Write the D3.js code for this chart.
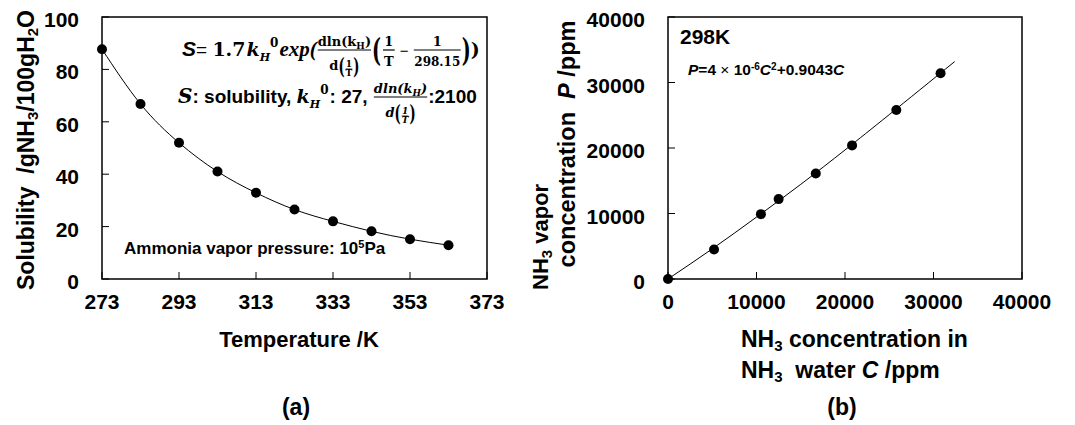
<!DOCTYPE html>
<html>
<head>
<meta charset="utf-8">
<script src="https://cdn.jsdelivr.net/npm/d3@7"></script>
<style>
  body { margin: 0; background: #fff; }
  svg { display: block; }
  text { fill: #000; white-space: pre; }
</style>
</head>
<body>
<svg id="chart" width="1075" height="425"></svg>
<script>
// panel (a): solubility of ammonia vs temperature
var tempK = [273, 283, 293, 303, 313, 323, 333, 343, 353, 363];
var solubility = [87.7, 66.8, 52.0, 41.0, 32.9, 26.5, 22.0, 18.2, 15.2, 12.9];
var tempTicks = [273, 293, 313, 333, 353, 373];
var solTicks = [0, 20, 40, 60, 80, 100];

// panel (b): vapor concentration vs concentration in water, 298K
var concC = [0, 5200, 10500, 12500, 16700, 20800, 25800, 30800];
var vaporP = [0, 4500, 9900, 12200, 16100, 20400, 25800, 31400];
// fitted line
var fitC = [0, 5000, 10000, 15000, 20000, 25000, 32400];
var fitP = [0, 4600, 9450, 14450, 19700, 25100, 33200];
var concTicks = [0, 10000, 20000, 30000, 40000];

var SANS = "Liberation Sans, Arial, sans-serif";
var SERIF = "DejaVu Serif, Liberation Serif, serif";
var TIMES = "Liberation Serif, serif";
var tickSize = 21, titleSize = 23;

var svg = d3.select("#chart");

// draws one framed panel with inward ticks
function panel(x, y, xTicks, yTicks) {
  var g = svg.append("g");
  var x0 = x.range()[0], x1 = x.range()[1], y0 = y.range()[0], y1 = y.range()[1];

  g.append("rect")
    .attr("x", x0).attr("y", y1)
    .attr("width", x1 - x0).attr("height", y0 - y1)
    .attr("fill", "none").attr("stroke", "#000").attr("stroke-width", 1.5);

  xTicks.forEach(function (v) {
    g.append("line")
      .attr("x1", x(v)).attr("x2", x(v))
      .attr("y1", y0).attr("y2", y0 - 7)
      .attr("stroke", "#000").attr("stroke-width", 1);
    g.append("text")
      .attr("x", x(v)).attr("y", y0 + 30)
      .attr("text-anchor", "middle")
      .attr("font-family", SANS).attr("font-weight", "bold").attr("font-size", tickSize)
      .text(v);
  });
  yTicks.forEach(function (v) {
    g.append("line")
      .attr("x1", x0).attr("x2", x0 + 7)
      .attr("y1", y(v)).attr("y2", y(v))
      .attr("stroke", "#000").attr("stroke-width", 1);
    g.append("text")
      .attr("x", x0 - 23).attr("y", y(v) + 10)
      .attr("text-anchor", "end")
      .attr("font-family", SANS).attr("font-weight", "bold").attr("font-size", tickSize)
      .text(v);
  });
  return g;
}

// inline layout of text pieces and fractions, returns total width
function layout(parent, items) {
  var cx = 0;
  items.forEach(function (it) {
    var g = parent.append("g").attr("transform", "translate(" + cx + ",0)");
    var w;
    if (it.frac) {
      var ng = g.append("g"), dg = g.append("g");
      var wn = layout(ng, it.frac[0]), wd = layout(dg, it.frac[1]);
      w = Math.max(wn, wd) + (it.pad || 4);
      ng.attr("transform", "translate(" + (w - wn) / 2 + "," + it.up + ")");
      dg.attr("transform", "translate(" + (w - wd) / 2 + "," + it.down + ")");
      g.append("line")
        .attr("x1", 1).attr("x2", w - 1)
        .attr("y1", it.bar).attr("y2", it.bar)
        .attr("stroke", "#000").attr("stroke-width", it.sw || 1.2);
    } else {
      var t = g.append("text")
        .attr("font-family", it.ff || SERIF)
        .attr("font-size", it.fs)
        .attr("font-weight", it.fw || "bold")
        .attr("font-style", it.it ? "italic" : "normal")
        .text(it.t);
      if (it.sy) t.attr("transform", "translate(0," + (it.dy || 0) + ") scale(1," + it.sy + ")");
      else t.attr("y", it.dy || 0);
      w = t.node().getComputedTextLength() + (it.gap || 0);
    }
    cx += w;
  });
  return cx;
}

// ---------- panel (a) ----------
var xa = d3.scaleLinear().domain([273, 373]).range([102, 487]);
var ya = d3.scaleLinear().domain([0, 100]).range([279, 17]);
var ga = panel(xa, ya, tempTicks, solTicks);

var solPts = tempK.map(function (t, i) { return [t, solubility[i]]; });
ga.append("path")
  .datum(solPts)
  .attr("fill", "none").attr("stroke", "#000").attr("stroke-width", 1)
  .attr("d", d3.line().x(function (d) { return xa(d[0]); }).y(function (d) { return ya(d[1]); }).curve(d3.curveNatural));
ga.selectAll(".dotA")
  .data(solPts)
  .enter().append("circle")
  .attr("class", "dotA")
  .attr("cx", function (d) { return xa(d[0]); })
  .attr("cy", function (d) { return ya(d[1]); })
  .attr("r", 5).attr("fill", "#000");

// y title (a)
var yta = ga.append("text")
  .attr("transform", "translate(34,150) rotate(-90)")
  .attr("text-anchor", "middle")
  .attr("font-family", SANS).attr("font-weight", "bold").attr("font-size", titleSize);
yta.append("tspan").text("Solubility  /gNH");
yta.append("tspan").attr("baseline-shift", "-25%").attr("font-size", 15).text("3");
yta.append("tspan").text("/100gH");
yta.append("tspan").attr("baseline-shift", "-25%").attr("font-size", 15).text("2");
yta.append("tspan").text("O");

ga.append("text")
  .attr("x", 299).attr("y", 347)
  .attr("text-anchor", "middle")
  .attr("font-family", SANS).attr("font-weight", "bold").attr("font-size", 22)
  .text("Temperature /K");

ga.append("text")
  .attr("x", 296).attr("y", 415)
  .attr("text-anchor", "middle")
  .attr("font-family", SANS).attr("font-weight", "bold").attr("font-size", titleSize)
  .text("(a)");

// ammonia note
var note = ga.append("text")
  .attr("x", 124).attr("y", 254)
  .attr("font-family", SANS).attr("font-weight", "bold").attr("font-size", 17);
note.append("tspan").text("Ammonia vapor pressure: 10");
note.append("tspan").attr("baseline-shift", "super").attr("font-size", 11).text("5");
note.append("tspan").text("Pa");

// formula line 1
var f1 = ga.append("g").attr("transform", "translate(182,56)");
var small = 13, tiny = 9;
layout(f1, [
  { t: "S", ff: SANS, fs: 21, it: true },
  { t: "= ", ff: SANS, fs: 19, fw: "normal" },
  { t: "1.7", fs: 19, gap: 1 },
  { t: "k", fs: 19, it: true },
  { t: "H", fs: 11, it: true, dy: 5 },
  { t: "0", fs: 12, dy: -9, gap: 1 },
  { t: "exp(", ff: TIMES, fs: 21, it: true },
  { frac: [
      [{ t: "dln(k", fs: small }, { t: "H", fs: 9, dy: 3 }, { t: ")", fs: small }],
      [{ t: "d", fs: small }, { t: "(", fs: small, sy: 1.7, dy: 4 },
       { frac: [[{ t: "1", fs: tiny }], [{ t: "T", fs: tiny }]], up: -3, down: 6, bar: -1, sw: 0.8, pad: 2 },
       { t: ")", fs: small, sy: 1.7, dy: 4 }]
    ], up: -10, down: 14, bar: -6, pad: 2 },
  { t: "(", fs: 19, sy: 1.7, dy: 5, gap: 1 },
  { frac: [[{ t: "1", fs: small }], [{ t: "T", fs: small }]], up: -10, down: 10, bar: -6, pad: 4 },
  { t: " − ", ff: SANS, fs: 15, fw: "normal" },
  { frac: [[{ t: "1", fs: small }], [{ t: "298.15", fs: 12 }]], up: -10, down: 10, bar: -6, pad: 3 },
  { t: ")", fs: 19, sy: 1.7, dy: 5 },
  { t: ")", fs: 19 }
]);

// formula line 2
var f2 = ga.append("g").attr("transform", "translate(178,103)");
layout(f2, [
  { t: "S", fs: 20, it: true },
  { t: ": solubility, ", ff: SANS, fs: 19 },
  { t: "k", fs: 19, it: true },
  { t: "H", fs: 11, it: true, dy: 5 },
  { t: "0", fs: 12, dy: -9, gap: 1 },
  { t: ": 27, ", ff: SANS, fs: 19 },
  { frac: [
      [{ t: "dln(k", fs: small, it: true }, { t: "H", fs: 9, it: true, dy: 3 }, { t: ")", fs: small, it: true }],
      [{ t: "d", fs: small, it: true }, { t: "(", fs: small, sy: 1.7, dy: 4 },
       { frac: [[{ t: "1", fs: tiny, it: true }], [{ t: "T", fs: tiny, it: true }]], up: -3, down: 6, bar: -1, sw: 0.8, pad: 2 },
       { t: ")", fs: small, sy: 1.7, dy: 4 }]
    ], up: -10, down: 14, bar: -6, pad: 2 },
  { t: ":2100", ff: SANS, fs: 19 }
]);

// ---------- panel (b) ----------
var xb = d3.scaleLinear().domain([0, 40000]).range([668, 1022]);
var yb = d3.scaleLinear().domain([0, 40000]).range([279, 17]);
var gb = panel(xb, yb, concTicks, concTicks);

var fitPts = fitC.map(function (c, i) { return [c, fitP[i]]; });
gb.append("path")
  .datum(fitPts)
  .attr("fill", "none").attr("stroke", "#000").attr("stroke-width", 1)
  .attr("d", d3.line().x(function (d) { return xb(d[0]); }).y(function (d) { return yb(d[1]); }).curve(d3.curveNatural));
gb.selectAll(".dotB")
  .data(concC.map(function (c, i) { return [c, vaporP[i]]; }))
  .enter().append("circle")
  .attr("class", "dotB")
  .attr("cx", function (d) { return xb(d[0]); })
  .attr("cy", function (d) { return yb(d[1]); })
  .attr("r", 5).attr("fill", "#000");

gb.append("text")
  .attr("x", 680).attr("y", 44)
  .attr("font-family", SANS).attr("font-weight", "bold").attr("font-size", 21)
  .text("298K");

var eq = gb.append("text")
  .attr("x", 688).attr("y", 75)
  .attr("font-family", SANS).attr("font-weight", "bold").attr("font-size", 15.5);
eq.append("tspan").attr("font-style", "italic").text("P");
eq.append("tspan").text("=4");
eq.append("tspan").attr("font-weight", "normal").text(" × ");
eq.append("tspan").text("10");
eq.append("tspan").attr("baseline-shift", "super").attr("font-size", 10).text("-6");
eq.append("tspan").attr("font-style", "italic").text("C");
eq.append("tspan").attr("baseline-shift", "super").attr("font-size", 10).text("2");
eq.append("tspan").text("+0.9043");
eq.append("tspan").attr("font-style", "italic").text("C");

// y title (b), two lines
var ytb1 = gb.append("text")
  .attr("transform", "translate(548,290) rotate(-90)")
  .attr("font-family", SANS).attr("font-weight", "bold").attr("font-size", 22);
ytb1.append("tspan").text("NH");
ytb1.append("tspan").attr("baseline-shift", "-25%").attr("font-size", 15).text("3");
ytb1.append("tspan").text(" vapor");

var ytb2 = gb.append("text")
  .attr("transform", "translate(575,144) rotate(-90)")
  .attr("text-anchor", "middle")
  .attr("font-family", SANS).attr("font-weight", "bold").attr("font-size", 23.5);
ytb2.append("tspan").text("concentration  ");
ytb2.append("tspan").attr("font-style", "italic").text("P");
ytb2.append("tspan").text(" /ppm");

// x title (b), two lines
var xtb1 = gb.append("text")
  .attr("x", 741).attr("y", 347)
  .attr("font-family", SANS).attr("font-weight", "bold").attr("font-size", titleSize);
xtb1.append("tspan").text("NH");
xtb1.append("tspan").attr("baseline-shift", "-25%").attr("font-size", 15).text("3");
xtb1.append("tspan").text(" concentration in");

var xtb2 = gb.append("text")
  .attr("x", 741).attr("y", 378)
  .attr("font-family", SANS).attr("font-weight", "bold").attr("font-size", titleSize);
xtb2.append("tspan").text("NH");
xtb2.append("tspan").attr("baseline-shift", "-25%").attr("font-size", 15).text("3");
xtb2.append("tspan").text("  water ");
xtb2.append("tspan").attr("font-style", "italic").text("C");
xtb2.append("tspan").text(" /ppm");

gb.append("text")
  .attr("x", 842).attr("y", 415)
  .attr("text-anchor", "middle")
  .attr("font-family", SANS).attr("font-weight", "bold").attr("font-size", titleSize)
  .text("(b)");
</script>
</body>
</html>
